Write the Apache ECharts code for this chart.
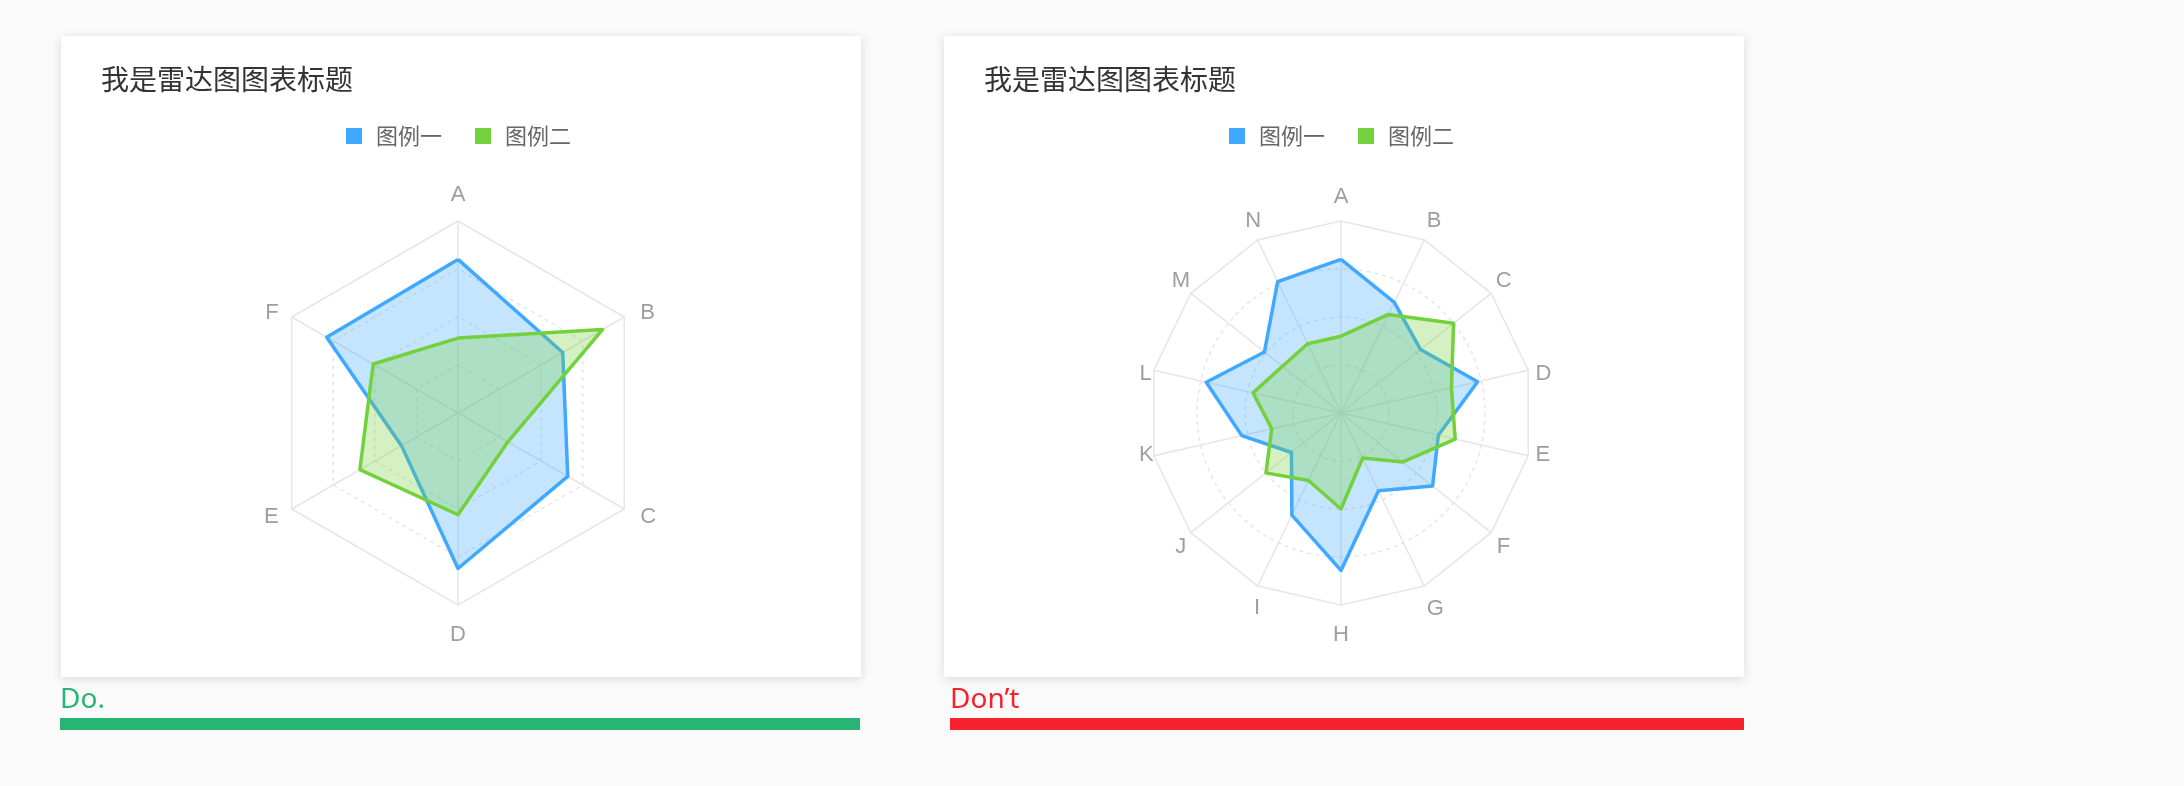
<!DOCTYPE html>
<html>
<head>
<meta charset="utf-8">
<script src="https://cdn.jsdelivr.net/npm/echarts@6/dist/echarts.min.js"></script>
<style>
  html, body { margin: 0; padding: 0; background: #fafafa; }
  #chart { width: 2184px; height: 786px; }
</style>
</head>
<body>
<div id="chart"></div>
<script>
// ---- data ----
const chartTitle = '我是雷达图图表标题';
const seriesNames = ['图例一', '图例二'];

const doCategories = ['A', 'B', 'C', 'D', 'E', 'F'];
const doSeries1 = [80, 63, 66, 81, 34, 79];
const doSeries2 = [39, 87, 30, 53, 59, 51];

const dontCategories = ['A', 'B', 'C', 'D', 'E', 'F', 'G', 'H', 'I', 'J', 'K', 'L', 'M', 'N'];
const dontSeries1 = [80, 64, 53, 73, 52, 61, 45, 82, 59, 33, 53, 72, 51, 76];
const dontSeries2 = [40, 57, 75, 59, 61, 41, 26, 50, 39, 50, 37, 47, 39, 40];

const axisMax = 100;
const doLabel = 'Do.';
const dontLabel = 'Don\u2019t';

// ---- styles ----
const BLUE = '#40a9ff';
const GREEN = '#73d13d';
const FONT = '"Noto Sans CJK SC", "Noto Sans", sans-serif';
const NAME_FONT = '"Liberation Sans", Arial, sans-serif';
const NAME_COLOR = '#9e9e9e';
const GRID = '#e6e6e6';
const DASH = '#e3e3e3';
const TRANSP = 'rgba(0,0,0,0)';
const OFFSET = 883; // horizontal distance between the two cards

// label nudges (padding [top, right, bottom, left]) to mimic the reference label placement
const doNamePad = { A: [0, 0, 0, 0], B: [7, 0, 0, 3], C: [0, 0, 0, 3], D: [8, 0, 0, 0], E: [0, 0, 0, 0], F: [7, 0, 0, 0] };
const dontNamePad = {
  A: [0, 0, 42, 0], B: [0, 0, 53, 6], C: [0, 0, 34, 11], D: [4, 0, 0, 15], E: [1, 0, 0, 15],
  F: [38, 0, 0, 12], G: [60, 0, 0, 6], H: [53, 0, 0, 0], I: [59, 1, 0, 0], J: [39, 11, 0, 0],
  K: [1, 8, 0, 0], L: [4, 10, 0, 0], M: [0, 7, 34, 0], N: [0, 0, 53, 0],
};

// ECharts lays radar indicators counter-clockwise; the reference runs clockwise,
// so keep the first axis on top and reverse the rest.
const cw = arr => [arr[0]].concat(arr.slice(1).reverse());

const chart = echarts.init(document.getElementById('chart'), null, { renderer: 'canvas' });

function indicators(cats) {
  return cw(cats).map(c => ({ name: c, max: axisMax, min: 0 }));
}

function richFor(pads) {
  const r = {};
  Object.keys(pads).forEach(k => {
    r[k] = { fontSize: 22, fontFamily: NAME_FONT, color: NAME_COLOR, padding: pads[k], lineHeight: 22 };
  });
  return r;
}

function radarPair(cats, cx, shape, gap, pads) {
  const base = {
    indicator: indicators(cats),
    center: [cx, 413],
    radius: 192,
    startAngle: 90,
  };
  return [
    Object.assign({}, base, {
      shape: shape,
      splitNumber: 4,
      axisName: { show: false },
      axisLine: { show: false },
      axisTick: { show: false },
      splitArea: { show: false },
      splitLine: { lineStyle: { type: [4, 4], width: 1.3, color: [DASH, DASH, DASH, DASH, TRANSP] } },
    }),
    Object.assign({}, base, {
      shape: 'polygon',
      splitNumber: 1,
      nameGap: gap,
      axisName: {
        color: NAME_COLOR, fontSize: 22, fontFamily: NAME_FONT,
        formatter: name => '{' + name + '|' + name + '}',
        rich: richFor(pads),
      },
      axisLine: { lineStyle: { color: GRID, width: 1.5 } },
      axisTick: { show: false },
      splitArea: { show: false },
      splitLine: { lineStyle: { type: 'solid', width: 1.5, color: [TRANSP, GRID] } },
    }),
  ];
}

function radarSeries(radarIndex, v1, v2) {
  const mk = (name, vals, col) => ({
    name: name,
    value: cw(vals),
    symbol: 'none',
    itemStyle: { color: col },
    lineStyle: { color: col, width: 3.5 },
    areaStyle: { color: col, opacity: 0.3 },
  });
  return {
    type: 'radar',
    radarIndex: radarIndex,
    z: 3,
    lineStyle: { width: 3.5 },
    data: [mk(seriesNames[0], v1, BLUE), mk(seriesNames[1], v2, GREEN)],
  };
}

function legendAt(left) {
  return {
    left: left,
    top: 125,
    padding: 0,
    icon: 'rect',
    itemWidth: 16,
    itemHeight: 16,
    itemGap: 33,
    textStyle: { fontSize: 22, color: '#666', fontFamily: FONT, padding: [0, 0, 0, 9] },
    data: [
      { name: seriesNames[0], itemStyle: { color: BLUE } },
      { name: seriesNames[1], itemStyle: { color: GREEN } },
    ],
  };
}

function titleAt(left) {
  return {
    text: chartTitle,
    left: left,
    top: 65,
    padding: 0,
    textStyle: { fontSize: 28, fontWeight: 'normal', color: '#333', fontFamily: FONT },
  };
}

function card(x) {
  return {
    type: 'rect',
    z: -10,
    shape: { x: x, y: 36, width: 800, height: 641 },
    style: { fill: '#fff', shadowBlur: 10, shadowColor: 'rgba(0,0,0,0.13)', shadowOffsetY: 2 },
  };
}

const option = {
  backgroundColor: '#fafafa',
  animation: false,
  title: [titleAt(101), titleAt(101 + OFFSET)],
  legend: [legendAt(346), legendAt(346 + OFFSET)],
  radar: radarPair(doCategories, 458, 'polygon', 15, doNamePad)
    .concat(radarPair(dontCategories, 458 + OFFSET, 'circle', -8, dontNamePad)),
  series: [
    radarSeries(0, doSeries1, doSeries2),
    radarSeries(2, dontSeries1, dontSeries2),
  ],
  graphic: [
    card(61),
    card(61 + OFFSET),
    {
      type: 'text', x: 60, y: 714,
      style: { text: doLabel, font: '28px "Noto Sans", sans-serif', fill: '#27b475', textVerticalAlign: 'bottom' },
    },
    {
      type: 'rect', shape: { x: 60, y: 718, width: 800, height: 12 },
      style: { fill: '#27b475' },
    },
    {
      type: 'text', x: 950, y: 714,
      style: { text: dontLabel, font: '28px "Noto Sans", sans-serif', fill: '#f5222d', textVerticalAlign: 'bottom' },
    },
    {
      type: 'rect', shape: { x: 950, y: 718, width: 794, height: 12 },
      style: { fill: '#f5222d' },
    },
  ],
};

chart.setOption(option);
</script>
</body>
</html>
